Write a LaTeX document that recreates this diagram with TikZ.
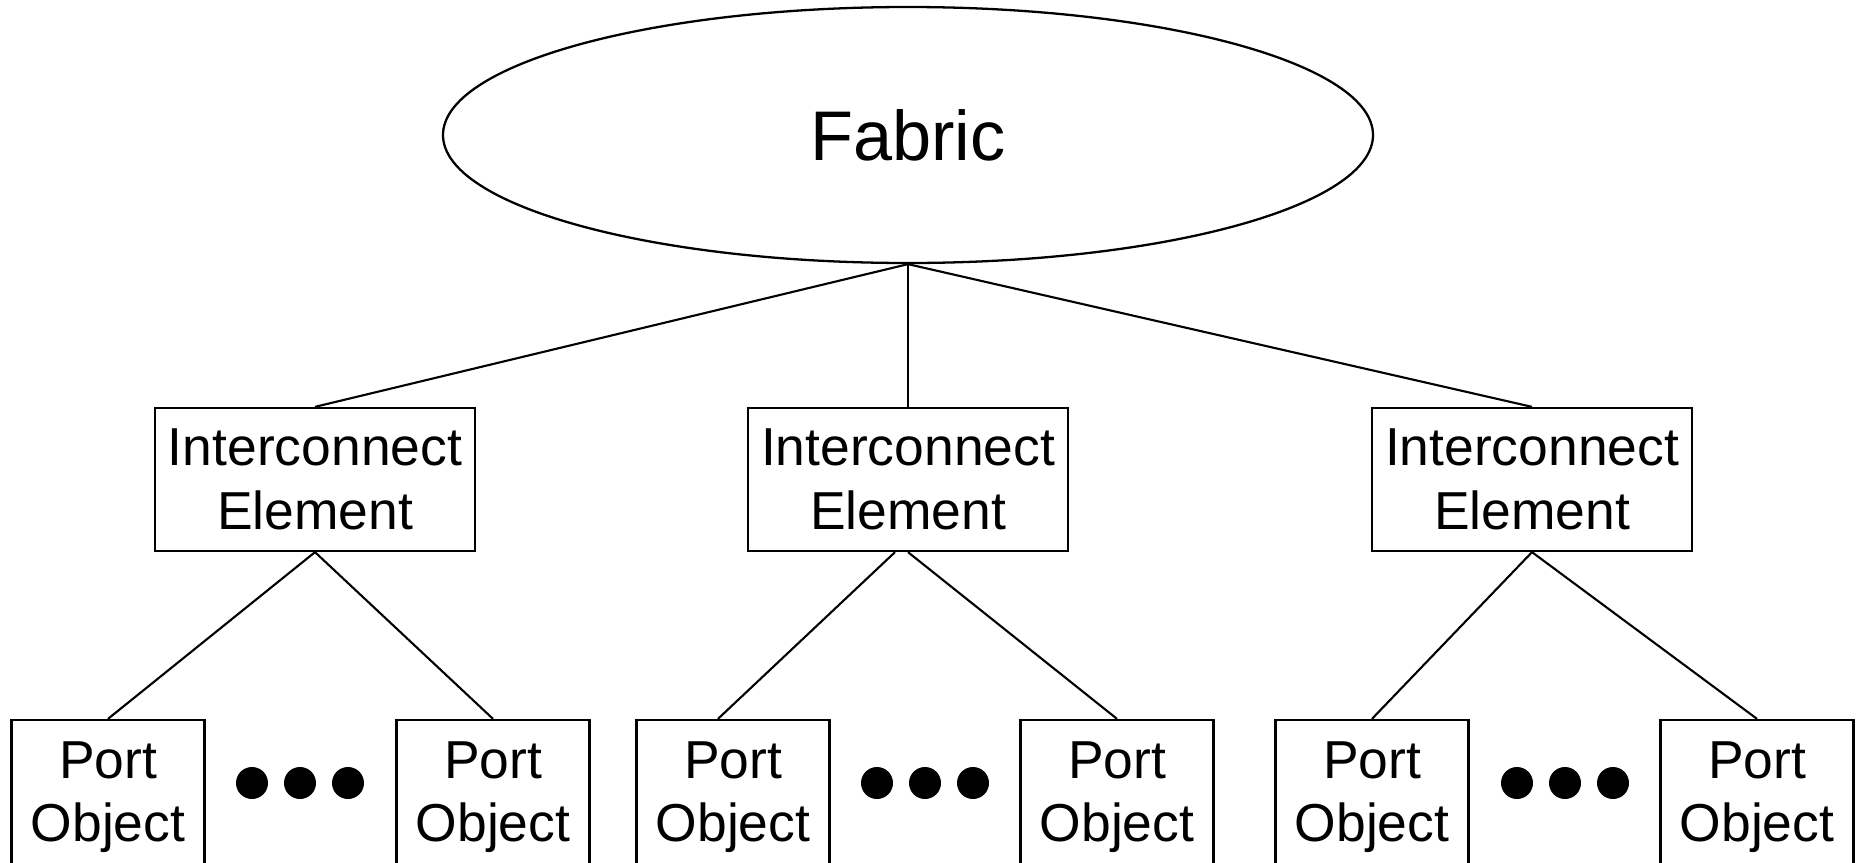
\documentclass[tikz,border=0pt]{standalone}
\usepackage{fontspec}
\setmainfont{Liberation Sans}
\usetikzlibrary{shapes.geometric}
\tikzstyle{cloud}=[ellipse,draw,line width=0.65pt,minimum width=9.3cm,minimum height=2.56cm,inner sep=0pt,font=\fontsize{20}{24}\selectfont]
\tikzstyle{elem}=[rectangle,draw,line width=0.65pt,minimum width=3.2cm,minimum height=1.43cm,inner sep=0pt,align=center,font=\fontsize{15.2}{18}\selectfont]
\tikzstyle{port}=[rectangle,draw,line width=0.65pt,minimum width=1.93cm,minimum height=1.55cm,inner sep=0pt,align=center,font=\fontsize{15.2}{18}\selectfont]
\tikzstyle{blob}=[circle,fill=black,minimum size=0.32cm,inner sep=0pt]

\begin{document}
\begin{tikzpicture}[line width=0.6pt]
\useasboundingbox (0,0) rectangle (18.58,8.62);

\node[cloud] (f) at (9.08, 7.27) {Fabric};

\node[elem] (ie1) at (3.15, 3.825) {Interconnect\\Element};
\node[elem] (ie2) at (9.08, 3.825) {Interconnect\\Element};
\node[elem] (ie3) at (15.32, 3.825) {Interconnect\\Element};

\node[port] (po1) at (1.08, 0.645) {Port\\Object};
\node[port] (po2) at (4.93, 0.645) {Port\\Object};
\node[port] (po3) at (7.33, 0.645) {Port\\Object};
\node[port] (po4) at (11.17, 0.645) {Port\\Object};
\node[port] (po5) at (13.72, 0.645) {Port\\Object};
\node[port] (po6) at (17.57, 0.645) {Port\\Object};

\node[blob] (d11) at (2.52, 0.79) {};
\node[blob] (d12) at (3.00, 0.79) {};
\node[blob] (d13) at (3.48, 0.79) {};
\node[blob] (d21) at (8.77, 0.79) {};
\node[blob] (d22) at (9.25, 0.79) {};
\node[blob] (d23) at (9.73, 0.79) {};
\node[blob] (d31) at (15.17, 0.79) {};
\node[blob] (d32) at (15.65, 0.79) {};
\node[blob] (d33) at (16.13, 0.79) {};

\draw (f.south) -- (ie1.north);
\draw (f.south) -- (ie2.north);
\draw (f.south) -- (ie3.north);

\draw (ie1.south) -- (po1.north);
\draw (ie1.south) -- (po2.north);
\draw ([xshift=-0.13cm]ie2.south) -- ([xshift=-0.15cm]po3.north);
\draw (ie2.south) -- (po4.north);
\draw (ie3.south) -- (po5.north);
\draw (ie3.south) -- (po6.north);

\end{tikzpicture}
\end{document}
